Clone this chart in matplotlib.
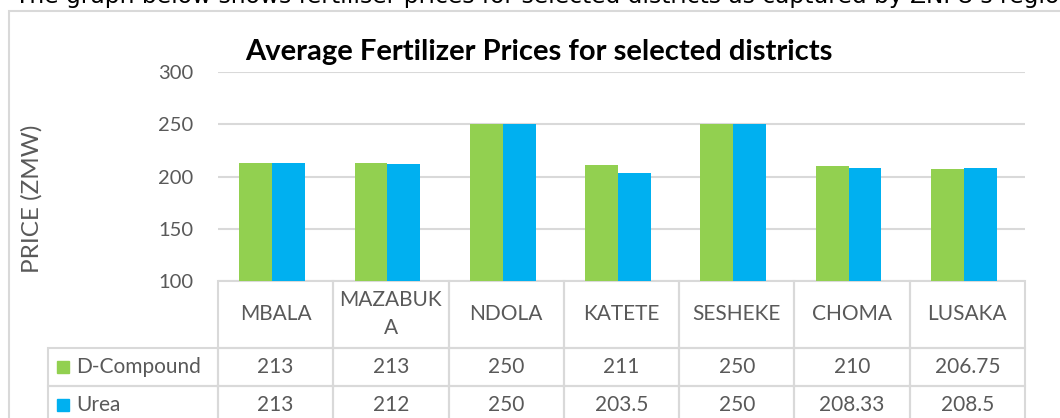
import textwrap
import numpy as np
import matplotlib
matplotlib.use('Agg')
import matplotlib.pyplot as plt
from matplotlib.patches import Rectangle
from matplotlib.table import Table

districts = ['MBALA', 'MAZABUKA', 'NDOLA', 'KATETE', 'SESHEKE', 'CHOMA', 'LUSAKA']
d_compound = [213, 213, 250, 211, 250, 210, 206.75]
urea = [213, 212, 250, 203.5, 250, 208.33, 208.5]
series_names = ['D-Compound', 'Urea']
series_colors = ['#92D050', '#00B0F0']

plt.rcParams['font.family'] = ['Lato', 'DejaVu Sans']
grey_txt = '#595959'
line_col = '#D9D9D9'

fig = plt.figure(figsize=(10.6, 4.18), dpi=100)
ax = fig.add_axes([218/1060, 1-281/418, 807/1060, 209/418])

x = np.arange(len(districts))
w = 0.285
for i, (vals, col) in enumerate(zip([d_compound, urea], series_colors)):
    ax.bar(x + (i - 0.5)*w - 0.03, np.array(vals) - 100, width=w, bottom=100,
           color=col, zorder=2)

ax.set_xlim(-0.5, len(districts) - 0.5)
ax.set_ylim(100, 300)
ax.set_yticks(np.arange(100, 301, 50))
ax.set_xticks([])
ax.grid(axis='y', color=line_col, linewidth=1.5, zorder=0)
ax.tick_params(axis='y', length=0, pad=18, labelsize=14.5, labelcolor=grey_txt)
for s in ax.spines.values():
    s.set_visible(False)

# data table under the bars
lab_w, col_w = 170, 807/7
row_h = [67, 38.3, 38.3]
tab = Table(ax, bbox=[-lab_w/807, -sum(row_h)/209, (lab_w + 7*col_w)/807, sum(row_h)/209])
rows = [[textwrap.fill(d, 7) for d in districts],
        [f'{v:g}' for v in d_compound],
        [f'{v:g}' for v in urea]]
for r in range(3):
    lab = '' if r == 0 else series_names[r-1]
    c = tab.add_cell(r, 0, width=lab_w, height=row_h[r], text=lab, loc='left',
                     edgecolor=line_col, facecolor='none')
    c.PAD = 28/lab_w
    if r == 0:
        c.visible_edges = ''
    for j, t in enumerate(rows[r]):
        tab.add_cell(r, j+1, width=col_w, height=row_h[r], text=t, loc='center',
                     edgecolor=line_col, facecolor='none')
for c in tab.get_celld().values():
    c.set_linewidth(1.5)
    c.get_text().set_color(grey_txt)
    c.get_text().set_linespacing(1.5)
tab.auto_set_font_size(False)
tab.set_fontsize(15)
ax.add_table(tab)

# legend keys in the row labels
for r, col in enumerate(series_colors):
    ytop = -(row_h[0] + r*row_h[1]) / 209
    ax.add_patch(Rectangle(((57-218)/807, ytop - (row_h[1] + 12)/2/209), 12/807, 12/209,
                           transform=ax.transAxes, color=col, clip_on=False))

fig.text(539/1060, 1-60/418, 'Average Fertilizer Prices for selected districts',
         ha='center', va='baseline', fontsize=21, fontweight='bold', color='black')
fig.text(32/1060, 1-199/418, 'PRICE (ZMW)', rotation=90, ha='center', va='center',
         fontsize=17.5, color=grey_txt)
fig.text(15/1060, 1-3/418,
         "The graph below shows fertiliser prices for selected districts as captured by ZNFU's regio",
         ha='left', va='baseline', fontsize=16.8, family='DejaVu Sans', color='black')
fig.add_artist(Rectangle((9/1060, -0.1), 1.2, 1.1 - 11/418, transform=fig.transFigure,
                         fill=False, edgecolor=line_col, linewidth=1.5))

fig.savefig('out.png', dpi=100)
